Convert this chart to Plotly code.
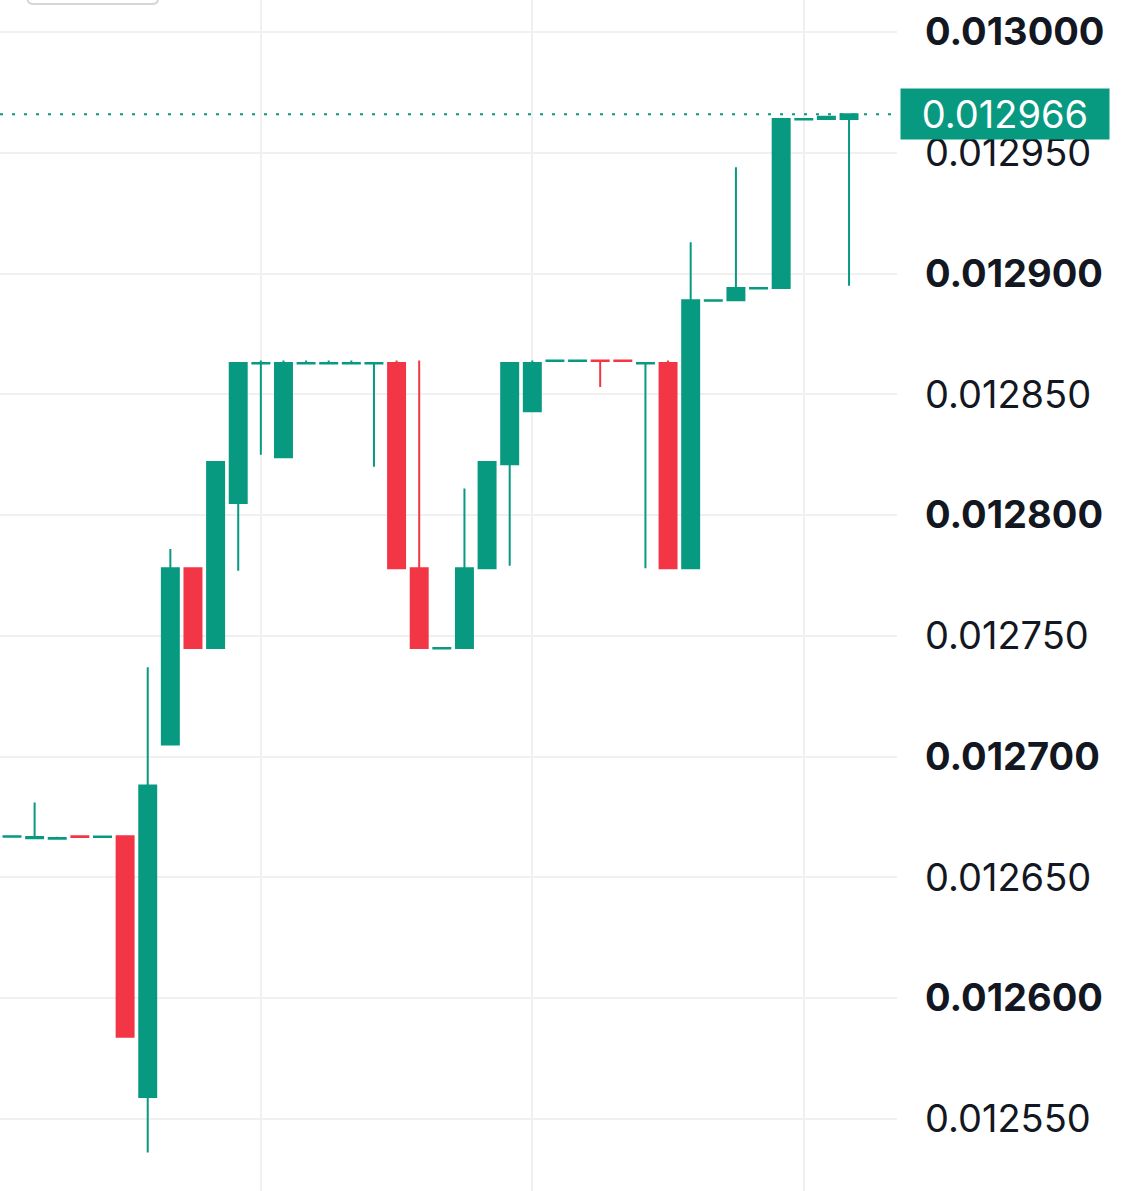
import plotly.graph_objects as go

# candles, oldest first (one per bar)
bar_index = list(range(38))
open_px = [0.0126668, 0.0126662, 0.0126660, 0.0126670, 0.0126667, 0.012667, 0.012559, 0.012705,
           0.012778, 0.012745, 0.012805, 0.0128628, 0.012824, 0.0128628, 0.0128628, 0.0128628,
           0.0128628, 0.012863, 0.012778, 0.0127448, 0.012745, 0.012778, 0.012821, 0.012843,
           0.0128638, 0.0128638, 0.012864, 0.012864, 0.0128628, 0.012863, 0.012778, 0.0128888,
           0.012889, 0.0128938, 0.012894, 0.0129638, 0.012964, 0.012964]
high_px = [0.0126670, 0.012681, 0.0126668, 0.0126670, 0.0126669, 0.012667, 0.012737, 0.012786,
           0.012778, 0.012822, 0.012863, 0.012864, 0.012864, 0.012864, 0.012864, 0.012864,
           0.012863, 0.012864, 0.012864, 0.012745, 0.012811, 0.012822, 0.012863, 0.012864,
           0.012864, 0.012864, 0.012864, 0.012864, 0.012863, 0.012864, 0.012913, 0.012889,
           0.012944, 0.012894, 0.012964, 0.012964, 0.012965, 0.012966]
low_px = [0.0126668, 0.0126662, 0.0126660, 0.0126667, 0.0126667, 0.012584, 0.012536, 0.012705,
          0.012745, 0.012745, 0.012777, 0.012825, 0.012824, 0.0128628, 0.0128628, 0.0128628,
          0.012820, 0.012778, 0.012745, 0.0127448, 0.012745, 0.012778, 0.012779, 0.012843,
          0.0128638, 0.0128638, 0.012853, 0.0128638, 0.012778, 0.012778, 0.012778, 0.0128888,
          0.012889, 0.0128938, 0.012894, 0.0129638, 0.012964, 0.012895]
close_px = [0.0126670, 0.0126667, 0.0126663, 0.0126667, 0.0126669, 0.012584, 0.012688, 0.012778,
            0.012745, 0.012822, 0.012863, 0.012863, 0.012863, 0.012863, 0.012863, 0.012863,
            0.012863, 0.012778, 0.012745, 0.012745, 0.012778, 0.012822, 0.012863, 0.012863,
            0.012864, 0.012864, 0.0128638, 0.0128638, 0.012863, 0.012778, 0.012889, 0.012889,
            0.012894, 0.012894, 0.012964, 0.012964, 0.012965, 0.012966]

price_ticks = [0.01255, 0.01260, 0.01265, 0.01270, 0.01275, 0.01280, 0.01285, 0.01290, 0.01295, 0.01300]
price_labels = ["0.012550", "0.012600", "0.012650", "0.012700", "0.012750",
                "0.012800", "0.012850", "0.012900", "0.012950", "0.013000"]
time_grid = [11, 23, 35]

UP = "#089981"
DOWN = "#F23645"
last_price = close_px[-1]

# every other label is bold, like the source chart
tick_text = ["<b>%s</b>" % t if i % 2 == 1 else t for i, t in enumerate(price_labels)]

fig = go.Figure()
fig.add_trace(go.Candlestick(
    x=bar_index, open=open_px, high=high_px, low=low_px, close=close_px,
    increasing=dict(line=dict(color=UP, width=2), fillcolor=UP),
    decreasing=dict(line=dict(color=DOWN, width=2), fillcolor=DOWN),
    whiskerwidth=0, hoverinfo="skip", showlegend=False,
))

# dotted last-price line
fig.add_shape(type="line", xref="paper", x0=0, x1=1, yref="y", y0=last_price, y1=last_price,
              line=dict(color=UP, width=2, dash="3px,9px"))

# bit of a toolbar button poking in at the top-left
fig.add_shape(type="path", xref="paper", yref="paper",
              path="M 0.031,1.01 L 0.031,1.0 Q 0.031,0.9966 0.038,0.9966 L 0.169,0.9966 "
                   "Q 0.176,0.9966 0.176,1.0 L 0.176,1.01",
              line=dict(color="#d6d6d6", width=2))

# last price tag on the axis (sits over the 0.012950 label, as in the source)
fig.add_annotation(xref="paper", x=1, xanchor="left", xshift=3, yref="y", y=last_price,
                   text="%.6f" % last_price, showarrow=False,
                   font=dict(family="Inter", size=38, color="white"),
                   bgcolor=UP, width=204, height=46, borderpad=2, align="center")

fig.update_layout(
    width=1125, height=1191,
    margin=dict(l=0, r=228, t=0, b=0),
    paper_bgcolor="white", plot_bgcolor="white",
    boxgap=0.25, boxgroupgap=0,
    font=dict(family="Inter", color="#131722"),
    xaxis=dict(range=[-0.53, 39.12], rangeslider=dict(visible=False),
               tickvals=time_grid, showticklabels=False, showgrid=True,
               gridcolor="#f0f0f0", gridwidth=2, zeroline=False, fixedrange=True),
    yaxis=dict(side="right", range=[0.0125201, 0.0130133], tickvals=price_ticks,
               ticktext=tick_text, tickfont=dict(family="Inter", size=38, color="#131722"),
               ticklabelstandoff=27, showgrid=True, gridcolor="#f0f0f0", gridwidth=2,
               zeroline=False, fixedrange=True),
)

# page body has an 8px default margin, drop it so the chart sits flush
fig.write_html("out.html", config={"displayModeBar": False},
               post_script="document.body.style.margin='0';")
